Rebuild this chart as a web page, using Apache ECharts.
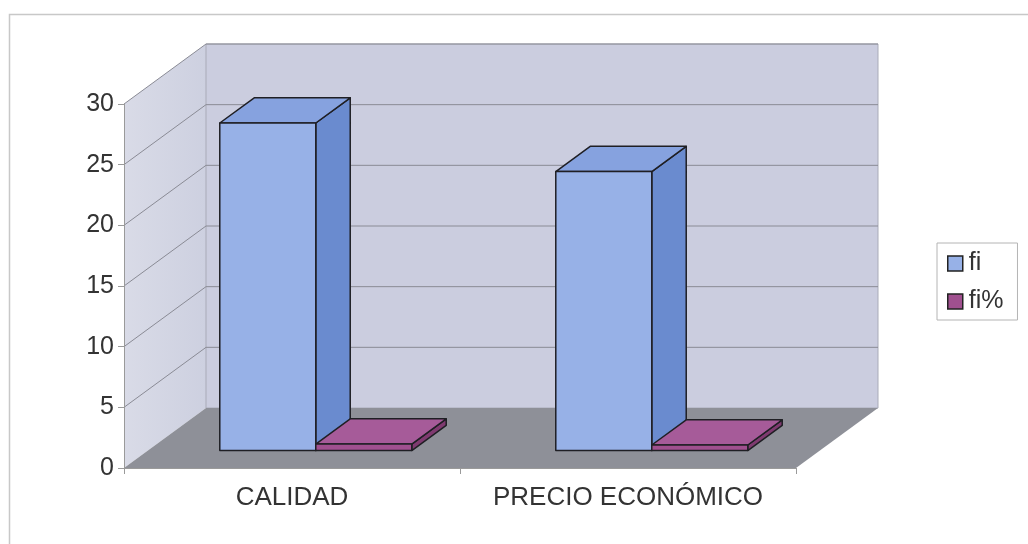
<!DOCTYPE html>
<html>
<head>
<meta charset="utf-8">
<script src="https://cdn.jsdelivr.net/npm/echarts@6/dist/echarts.min.js"></script>
<style>
  html, body { margin: 0; padding: 0; background: #fff; }
  #chart { width: 1028px; height: 544px; }
</style>
</head>
<body>
<div id="chart"></div>
<script>
// Categories and series values
const categories = ['CALIDAD', 'PRECIO ECONÓMICO'];
const fiValues = [27, 23];
const fiPctValues = [0.54, 0.46];
const seriesNames = ['fi', 'fi%'];
const yTicks = [0, 5, 10, 15, 20, 25, 30];

// Pseudo-3D depth of the floor (pixels) and the slab each bar occupies
const DEPTH_X = 82;
const DEPTH_Y = -60;
const BAR_FRONT = 0.29;
const BAR_BACK = 0.71;
const BAR_FRAC = 96 / 336; // width of one bar relative to the category band

const FACE = {
  fi:    { front: '#97b1e7', top: '#86a2df', side: '#6a8bcf' },
  'fi%': { front: '#a0508f', top: '#a65b99', side: '#7f3a70' }
};

const chart = echarts.init(document.getElementById('chart'));

function shift(p, f) {
  return [p[0] + DEPTH_X * f, p[1] + DEPTH_Y * f];
}

// Walls, floor and their grid lines, built from the grid's coordinate system
function renderWalls(params, api) {
  const cs = params.coordSys;
  const x0 = cs.x, x1 = cs.x + cs.width;
  const yTop = cs.y, yBot = cs.y + cs.height;
  const fl = [x0, yBot], fr = [x1, yBot], tl = [x0, yTop];
  const children = [];
  // side wall
  children.push({
    type: 'polygon',
    shape: { points: [fl, tl, shift(tl, 1), shift(fl, 1)] },
    style: {
      fill: new echarts.graphic.LinearGradient(0, 0, 1, 0, [
        { offset: 0, color: '#d9dbe7' }, { offset: 1, color: '#cdd0e0' }
      ])
    }
  });
  // back wall
  children.push({
    type: 'polygon',
    shape: { points: [shift(tl, 1), shift([x1, yTop], 1), shift(fr, 1), shift(fl, 1)] },
    style: { fill: '#cbcddf', stroke: '#a9abb8', lineWidth: 1 }
  });
  // floor
  children.push({
    type: 'polygon',
    shape: { points: [fl, fr, shift(fr, 1), shift(fl, 1)] },
    style: { fill: '#8e9098' }
  });
  // grid lines on side and back walls
  yTicks.forEach(function (v) {
    if (v === 0) return;
    const y = api.coord([0, v])[1];
    const a = [x0, y];
    const b = shift(a, 1);
    const c = shift([x1, y], 1);
    children.push({
      type: 'polyline',
      shape: { points: [a, b, c] },
      style: { stroke: '#8a8b95', lineWidth: 1, fill: null }
    });
  });
  return { type: 'group', children: children };
}

function makeBarRenderer(seriesIndex, name) {
  return function (params, api) {
    const i = api.value(0);
    const v = api.value(1);
    const center = api.coord([i, 0]);
    const band = api.size([1, 0])[0];
    const barW = band * BAR_FRAC;
    const left = center[0] - barW + seriesIndex * barW;
    const yTop = api.coord([i, v])[1];
    const yBase = center[1];
    const p = function (x, y, f) { return shift([x, y], f); };
    const fa = p(left, yBase, BAR_FRONT), fb = p(left + barW, yBase, BAR_FRONT);
    const fc = p(left + barW, yTop, BAR_FRONT), fd = p(left, yTop, BAR_FRONT);
    const bb = p(left + barW, yBase, BAR_BACK), bc = p(left + barW, yTop, BAR_BACK);
    const bd = p(left, yTop, BAR_BACK);
    const col = FACE[name];
    const edge = { stroke: '#1f1f24', lineWidth: 1.5, lineJoin: 'round' };
    return {
      type: 'group',
      children: [
        { type: 'polygon', shape: { points: [fb, bb, bc, fc] },
          style: Object.assign({ fill: col.side }, edge) },
        { type: 'polygon', shape: { points: [fd, fc, bc, bd] },
          style: Object.assign({ fill: col.top }, edge) },
        { type: 'polygon', shape: { points: [fa, fb, fc, fd] },
          style: Object.assign({ fill: col.front }, edge) }
      ]
    };
  };
}

const option = {
  backgroundColor: '#ffffff',
  animation: false,
  textStyle: { fontFamily: 'Liberation Sans, Arial, sans-serif' },
  graphic: [{
    type: 'rect', left: 7, top: 12, z: -10,
    shape: { width: 1100, height: 600 },
    style: { fill: null, stroke: '#c8c8c8', lineWidth: 1.5 }
  }],
  grid: { left: 124, top: 104, right: 232, bottom: 76, containLabel: false },
  legend: {
    orient: 'vertical',
    left: 937, top: 243,
    padding: [8, 14, 6, 10],
    borderColor: '#b4b4b4', borderWidth: 1,
    itemWidth: 15, itemHeight: 15, itemGap: 13,
    icon: 'rect',
    textStyle: { fontSize: 25, lineHeight: 25, color: '#333', padding: [0, 0, 0, 1] },
    data: [
      { name: seriesNames[0], itemStyle: { color: FACE.fi.front, borderColor: '#222', borderWidth: 1.5 } },
      { name: seriesNames[1], itemStyle: { color: FACE['fi%'].front, borderColor: '#222', borderWidth: 1.5 } }
    ]
  },
  xAxis: {
    type: 'category',
    data: categories,
    boundaryGap: true,
    z: 10,
    axisLine: { lineStyle: { color: '#9a9a9a', width: 1 } },
    axisTick: { show: true, interval: 0, length: 6, alignWithLabel: false, lineStyle: { color: '#9a9a9a' } },
    axisLabel: { interval: 0, fontSize: 26, color: '#333', margin: 17 },
    splitLine: { show: false }
  },
  yAxis: {
    type: 'value',
    min: 0, max: 30, interval: 5,
    z: 10,
    axisLine: { show: true, lineStyle: { color: '#9a9a9a', width: 1 } },
    axisTick: { show: true, length: 6, lineStyle: { color: '#9a9a9a' } },
    axisLabel: { fontSize: 25, color: '#333', margin: 10 },
    splitLine: { show: false }
  },
  series: [
    {
      type: 'custom',
      name: '__walls',
      z: 1,
      silent: true,
      renderItem: renderWalls,
      data: [[0, 0]],
      encode: { x: 0, y: 1 }
    },
    {
      type: 'custom',
      name: seriesNames[0],
      z: 3,
      itemStyle: { color: FACE.fi.front },
      renderItem: makeBarRenderer(0, 'fi'),
      data: categories.map(function (c, i) { return [i, fiValues[i]]; }),
      encode: { x: 0, y: 1 }
    },
    {
      type: 'custom',
      name: seriesNames[1],
      z: 4,
      itemStyle: { color: FACE['fi%'].front },
      renderItem: makeBarRenderer(1, 'fi%'),
      data: categories.map(function (c, i) { return [i, fiPctValues[i]]; }),
      encode: { x: 0, y: 1 }
    }
  ]
};

chart.setOption(option);
</script>
</body>
</html>
